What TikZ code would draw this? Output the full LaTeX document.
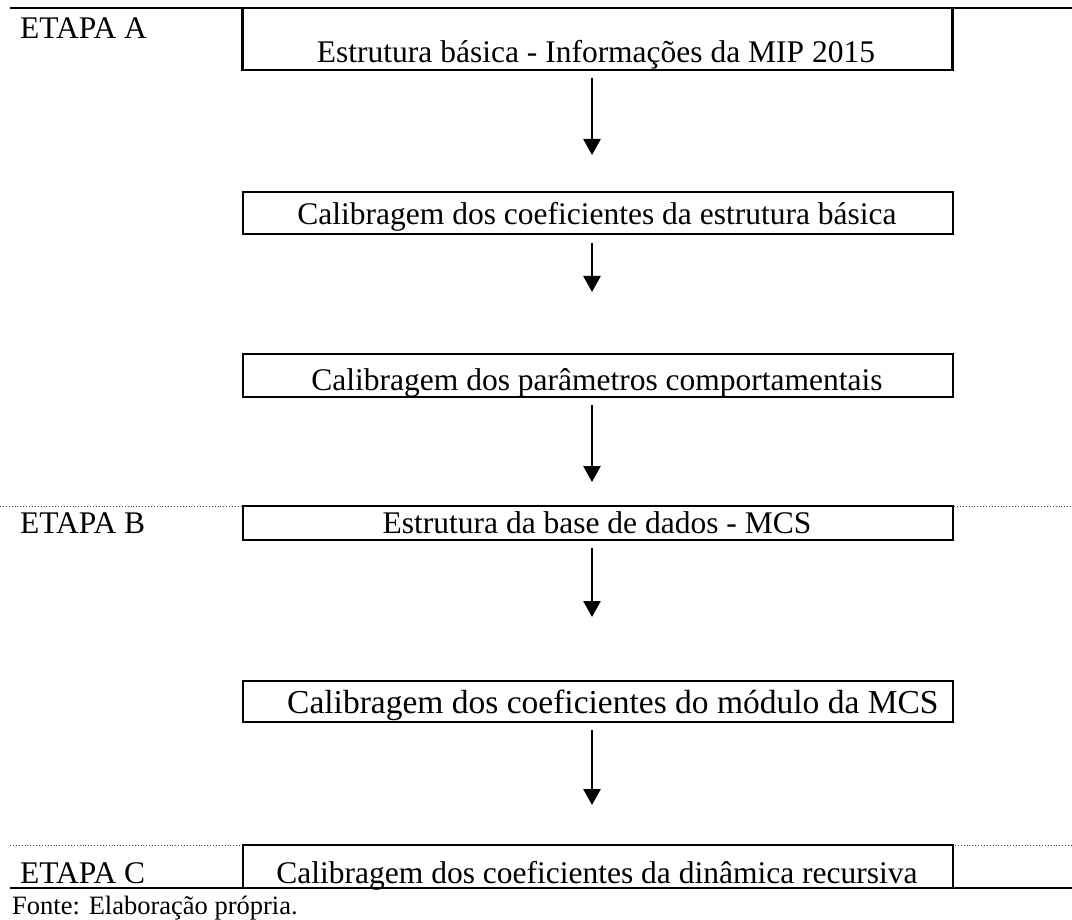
\documentclass[tikz,border=0pt]{standalone}
\usepackage{fontspec}
\setmainfont{Liberation Serif}
\usetikzlibrary{arrows.meta}
\begin{document}
\begin{tikzpicture}[x=1pt,y=-1pt,
  box/.style={draw, line width=2.7pt, minimum width=710pt, inner sep=0pt, outer sep=0pt},
  txt/.style={anchor=base, inner sep=0pt, font=\fontsize{31.5}{36}\selectfont},
  etapa/.style={anchor=base west, inner sep=0pt, font=\fontsize{31.5}{36}\selectfont},
  rule/.style={line width=2.7pt},
  dotrule/.style={line width=0.9pt, dotted, black!70},
  flow/.style={line width=2.7pt, -{Triangle[width=17pt,length=16pt]}}]
\useasboundingbox (0,0) rectangle (1072,920);
% table rules
\draw[rule] (10,8) -- (1072,8);
\draw[dotrule] (0,506) -- (1072,506);
\draw[dotrule] (10,845) -- (243,845);
\draw[dotrule] (952,845) -- (1072,845);
\draw[rule] (10,888) -- (1072,888);
% stage labels
\node[etapa] (ea) at (20,39) {ETAPA A};
\node[etapa] (eb) at (20,533) {ETAPA B};
\node[etapa] (ec) at (20,883) {ETAPA C};
% boxes
\node[box, minimum height=62pt] (b1) at (597.5,39) {};
\node[box, minimum height=42pt] (b2) at (598,213) {};
\node[box, minimum height=43pt] (b3) at (598,375.5) {};
\node[box, minimum height=34pt] (b4) at (598,523) {};
\node[box, minimum height=41pt] (b5) at (598,701.5) {};
\node[box, minimum height=43pt] (b6) at (598,866.5) {};
% box texts
\node[txt] (t1) at (596,63) {Estrutura básica - Informações da MIP 2015};
\node[txt] (t2) at (597,225) {Calibragem dos coeficientes da estrutura básica};
\node[txt] (t3) at (597,390) {Calibragem dos parâmetros comportamentais};
\node[txt] (t4) at (597,533) {Estrutura da base de dados - MCS};
\node[txt, anchor=base west, font=\fontsize{33.5}{38}\selectfont] (t5) at (287,713) {Calibragem dos coeficientes do módulo da MCS};
\node[txt] (t6) at (597,883) {Calibragem dos coeficientes da dinâmica recursiva};
% arrows
\draw[flow, shorten <=8pt, shorten >=37pt] ([xshift=-5.5pt]b1.south) -- ([xshift=-6pt]b2.north);
\draw[flow, shorten <=9pt, shorten >=62pt] ([xshift=-6pt]b2.south) -- ([xshift=-6pt]b3.north);
\draw[flow, shorten <=8pt, shorten >=24pt] ([xshift=-6pt]b3.south) -- ([xshift=-6pt]b4.north);
\draw[flow, shorten <=8pt, shorten >=64pt] ([xshift=-6pt]b4.south) -- ([xshift=-6pt]b5.north);
\draw[flow, shorten <=8pt, shorten >=40pt] ([xshift=-6pt]b5.south) -- ([xshift=-6pt]b6.north);
% source note
\node[anchor=base west, inner sep=0pt, font=\fontsize{26.5}{30}\selectfont] (src) at (12,914) {Fonte: Elaboração própria.};
\end{tikzpicture}
\end{document}
